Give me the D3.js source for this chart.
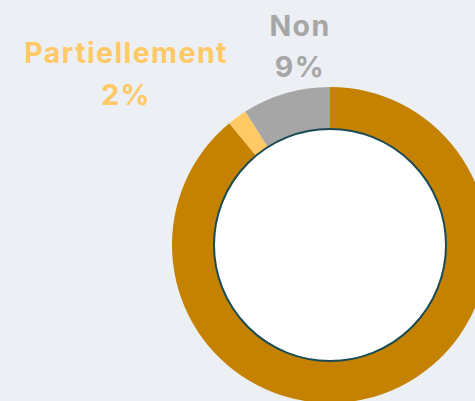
<!DOCTYPE html>
<html>
<head>
<meta charset="utf-8">
<script src="https://cdn.jsdelivr.net/npm/d3@7"></script>
<style>
  html, body { margin: 0; padding: 0; background: #eceff3; }
  svg { display: block; }
  .lbl { font-family: "Inter", sans-serif; font-weight: 700; font-variant-ligatures: none; letter-spacing: 1.4px; }
</style>
</head>
<body>
<div id="chart"></div>
<script>
var categories = ["Oui", "Partiellement", "Non"];
var values = [89, 2, 9];
var colors = ["#c48200", "#ffc966", "#a6a6a6"];
var shownLabels = ["Partiellement", "Non"];

var w = 475, h = 401;
var cx = 330, cy = 245;
var outerR = 158, innerR = 115;

var svg = d3.select("#chart").append("svg")
  .attr("width", w)
  .attr("height", h);

var data = categories.map(function(c, i){ return {name: c, value: values[i], color: colors[i]}; });

var pie = d3.pie().sort(null).value(function(d){ return d.value; });
var arc = d3.arc().innerRadius(innerR).outerRadius(outerR);

var g = svg.append("g").attr("transform", "translate(" + cx + "," + cy + ")");

g.selectAll("path")
  .data(pie(data))
  .enter()
  .append("path")
  .attr("d", arc)
  .attr("fill", function(d){ return d.data.color; });

// white centre with dark outline
g.append("circle")
  .attr("r", innerR + 1)
  .attr("fill", "#ffffff")
  .attr("stroke", "#1b4a55")
  .attr("stroke-width", 2);

// labels (positions by hand, as in the original layout)
var labelPos = {
  "Partiellement": {x: 126, y1: 63, y2: 105},
  "Non": {x: 300, y1: 36, y2: 77}
};

shownLabels.forEach(function(name){
  var d = data.find(function(e){ return e.name === name; });
  var p = labelPos[name];
  var t = svg.append("text")
    .attr("class", "lbl")
    .attr("text-anchor", "middle")
    .attr("fill", d.color)
    .attr("font-size", 28.5);
  t.append("tspan").attr("x", p.x).attr("y", p.y1).text(d.name);
  t.append("tspan").attr("x", p.x).attr("y", p.y2).text(d.value + "%");
});
</script>
</body>
</html>
